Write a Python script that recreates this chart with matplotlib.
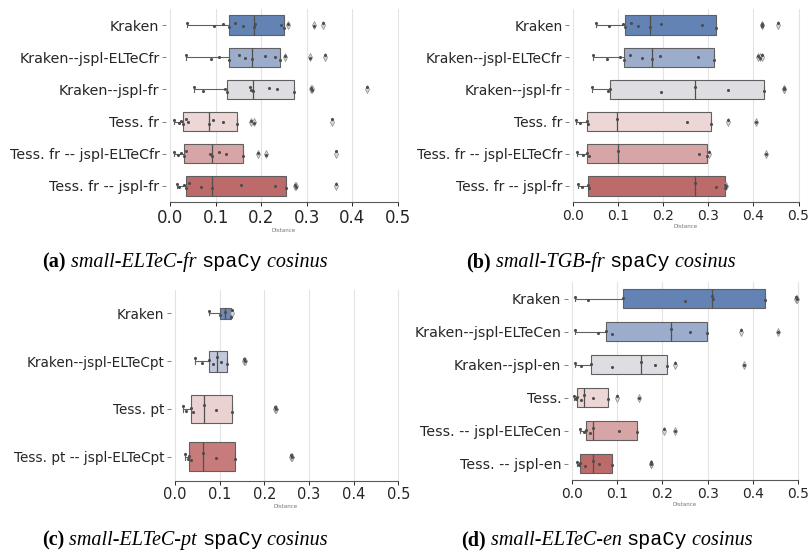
import numpy as np
import matplotlib.pyplot as plt

# ---- data (distance values per system) ----
a_labels = ["Kraken", "Kraken--jspl-ELTeCfr", "Kraken--jspl-fr",
            "Tess. fr", "Tess. fr -- jspl-ELTeCfr", "Tess. fr -- jspl-fr"]
a_kraken = [0.038, 0.096, 0.117, 0.129, 0.142, 0.160, 0.185, 0.187, 0.243, 0.250, 0.258, 0.316, 0.336]
a_kraken_eltec = [0.034, 0.091, 0.107, 0.129, 0.151, 0.165, 0.180, 0.209, 0.230, 0.241, 0.253, 0.307, 0.340]
a_kraken_fr = [0.053, 0.073, 0.120, 0.124, 0.175, 0.178, 0.181, 0.217, 0.234, 0.273, 0.309, 0.311, 0.431]
a_tess = [0.008, 0.020, 0.025, 0.028, 0.035, 0.040, 0.086, 0.095, 0.117, 0.148, 0.177, 0.184, 0.356]
a_tess_eltec = [0.009, 0.018, 0.025, 0.031, 0.036, 0.088, 0.092, 0.108, 0.123, 0.159, 0.194, 0.210, 0.363]
a_tess_fr = [0.016, 0.020, 0.030, 0.035, 0.041, 0.069, 0.093, 0.156, 0.230, 0.254, 0.274, 0.276, 0.363]

b_labels = a_labels
b_kraken = [0.052, 0.079, 0.110, 0.116, 0.129, 0.145, 0.171, 0.196, 0.285, 0.318, 0.418, 0.420, 0.454]
b_kraken_eltec = [0.044, 0.076, 0.105, 0.113, 0.127, 0.154, 0.175, 0.193, 0.278, 0.313, 0.410, 0.414, 0.419]
b_kraken_fr = [0.042, 0.077, 0.081, 0.195, 0.271, 0.343, 0.424, 0.467, 0.468]
b_tess = [0.007, 0.016, 0.032, 0.033, 0.097, 0.252, 0.307, 0.343, 0.405]
b_tess_eltec = [0.008, 0.022, 0.032, 0.035, 0.099, 0.280, 0.298, 0.302, 0.427]
b_tess_fr = [0.010, 0.020, 0.033, 0.035, 0.271, 0.316, 0.336, 0.338, 0.340]

c_labels = ["Kraken", "Kraken--jspl-ELTeCpt", "Tess. pt", "Tess. pt -- jspl-ELTeCpt"]
c_kraken = [0.075, 0.101, 0.113, 0.125, 0.128]
c_kraken_eltec = [0.045, 0.060, 0.075, 0.086, 0.095, 0.103, 0.117, 0.155, 0.157]
c_tess = [0.017, 0.025, 0.035, 0.041, 0.066, 0.092, 0.127, 0.224, 0.225]
c_tess_eltec = [0.022, 0.028, 0.031, 0.035, 0.063, 0.092, 0.134, 0.259, 0.261]

d_labels = ["Kraken", "Kraken--jspl-ELTeCen", "Kraken--jspl-en",
            "Tess.", "Tess. -- jspl-ELTeCen", "Tess. -- jspl-en"]
d_kraken = [0.007, 0.037, 0.114, 0.250, 0.309, 0.311, 0.427, 0.495, 0.496]
d_kraken_eltec = [0.007, 0.057, 0.075, 0.088, 0.218, 0.261, 0.299, 0.373, 0.456]
d_kraken_en = [0.007, 0.020, 0.042, 0.088, 0.152, 0.184, 0.210, 0.228, 0.380]
d_tess = [0.004, 0.010, 0.012, 0.020, 0.027, 0.046, 0.079, 0.101, 0.149]
d_tess_eltec = [0.018, 0.027, 0.032, 0.040, 0.046, 0.105, 0.143, 0.204, 0.228]
d_tess_en = [0.012, 0.016, 0.018, 0.030, 0.046, 0.061, 0.090, 0.174, 0.175]

xticks = [0.0, 0.1, 0.2, 0.3, 0.4, 0.5]

# vlag-like colours
colors6 = ["#6483b5", "#9cadcb", "#dedee2", "#ecd6d6", "#d7a5a5", "#bd6a6a"]
colors4 = ["#7089b5", "#c3c9dc", "#ebd2d2", "#c77b7b"]

jit = [-0.06, 0.04, -0.02, 0.07, -0.08, 0.02, 0.06, -0.04, 0.0, 0.08, -0.03, 0.03, -0.07]

fig = plt.figure(figsize=(8.11, 5.53), dpi=100)
W, H = 811, 553


def panel(box_px, labels, values, colors, widths, yfs, xfs):
    # box_px: x of 0.0, px per unit, top y, bottom y (pixels)
    x0, scale, top, bot = box_px
    lo, hi = -0.008, 0.505
    left = x0 + lo * scale
    right = x0 + hi * scale
    ax = fig.add_axes([left / W, 1 - bot / H, (right - left) / W, (bot - top) / H])
    n = len(labels)
    pos = np.arange(n)
    bp = ax.boxplot(values, positions=pos, orientation='horizontal', widths=widths,
                    whis=(0, 75), patch_artist=True, capwidths=[w * 0.25 for w in widths],
                    boxprops=dict(edgecolor='#606060', linewidth=0.8),
                    medianprops=dict(color='#505050', linewidth=0.9),
                    whiskerprops=dict(color='#606060', linewidth=0.8),
                    capprops=dict(color='#606060', linewidth=0.8),
                    flierprops=dict(marker='d', markersize=4, markerfacecolor='#d8d8d8',
                                    markeredgecolor='#8a8a8a', markeredgewidth=0.5),
                    zorder=2)
    for patch, c in zip(bp['boxes'], colors):
        patch.set_facecolor(c)
    for i, v in enumerate(values):
        yy = [i + jit[j % len(jit)] for j in range(len(v))]
        ax.scatter(v, yy, s=5, color='0.3', zorder=4, linewidths=0)
    ax.set_yticks(pos)
    ax.set_yticklabels(labels, fontsize=yfs)
    ax.set_ylim(n - 0.5, -0.5)
    ax.set_xlim(lo, hi)
    ax.set_xticks(xticks)
    ax.set_xticklabels([f"{t:.1f}" for t in xticks], fontsize=xfs)
    ax.xaxis.grid(True, color='#e3e3e3', linewidth=0.8, zorder=0)
    ax.set_axisbelow(True)
    for s in ['top', 'right', 'left']:
        ax.spines[s].set_visible(False)
    ax.spines['bottom'].set_bounds(0, 0.5)
    ax.spines['bottom'].set_color('0.35')
    ax.spines['bottom'].set_linewidth(0.8)
    ax.tick_params(axis='both', colors='0.15', length=3, width=0.7, pad=2)
    ax.tick_params(axis='y', color='0.5')
    ax.set_xlabel('Distance', fontsize=4, color='0.45', labelpad=1)
    return ax


panel((170, 456, 9, 202), a_labels,
      [a_kraken, a_kraken_eltec, a_kraken_fr, a_tess, a_tess_eltec, a_tess_fr],
      colors6, [0.6] * 6, 10.3, 12)
panel((573, 451, 9, 202), b_labels,
      [b_kraken, b_kraken_eltec, b_kraken_fr, b_tess, b_tess_eltec, b_tess_fr],
      colors6, [0.6] * 6, 10, 10)
panel((175, 446.7, 289.5, 480.5), c_labels,
      [c_kraken, c_kraken_eltec, c_tess, c_tess_eltec],
      colors4, [0.23, 0.44, 0.6, 0.62], 9.8, 10.5)
panel((571.7, 453.3, 282, 480), d_labels,
      [d_kraken, d_kraken_eltec, d_kraken_en, d_tess, d_tess_eltec, d_tess_en],
      colors6, [0.6] * 6, 10.2, 10)

# ---- captions with mixed fonts ----
serif = ['Liberation Serif', 'DejaVu Serif']
fs = 14.5


def caption(cx, cy, letter, name):
    parts = [(f"({letter})", dict(family=serif, weight='bold')),
             (f" {name} ", dict(family=serif, style='italic')),
             ("spaCy", dict(family=['Liberation Mono', 'DejaVu Sans Mono'])),
             (" cosinus", dict(family=serif, style='italic'))]
    texts = [fig.text(0, 1 - cy / H, t, fontsize=fs, va='baseline', ha='left', **kw)
             for t, kw in parts]
    r = fig.canvas.get_renderer()
    widths = [t.get_window_extent(r).width for t in texts]
    x = cx - sum(widths) / 2
    for t, w in zip(texts, widths):
        t.set_x(x / W)
        x += w


caption(185, 267, 'a', 'small-ELTeC-fr')
caption(601, 267, 'b', 'small-TGB-fr')
caption(185, 545, 'c', 'small-ELTeC-pt')
caption(607, 545, 'd', 'small-ELTeC-en')

fig.savefig('out.png', dpi=100)
